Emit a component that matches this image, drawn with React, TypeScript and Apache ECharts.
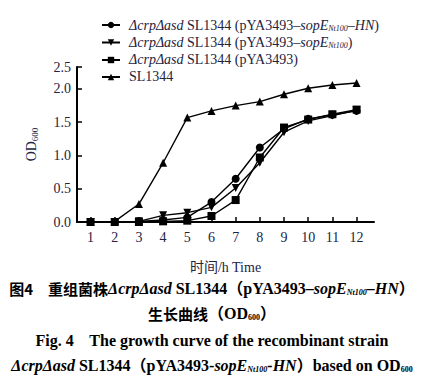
import React, { useEffect, useRef } from "react";
import * as echarts from "echarts";

const hours = [1, 2, 3, 4, 5, 6, 7, 8, 9, 10, 11, 12];
const sopEHN = [0, 0, 0.01, 0.03, 0.07, 0.3, 0.65, 1.12, 1.4, 1.55, 1.61, 1.67];
const sopENt = [0, 0, 0.01, 0.1, 0.14, 0.22, 0.51, 0.89, 1.35, 1.52, 1.6, 1.68];
const pYA = [0, 0, 0, 0.01, 0.02, 0.09, 0.33, 0.97, 1.42, 1.54, 1.62, 1.69];
const sl1344 = [0, 0.01, 0.27, 0.89, 1.57, 1.67, 1.75, 1.81, 1.92, 2.01, 2.06, 2.09];
const yTickValues = [0, 0.5, 1, 1.5, 2, 2.33];
const yTickLabels = ["0.0", "0.5", "1.0", "1.5", "2.0", "2.5"];

const seriesNames = ["sopEHN", "sopENt", "pYA", "SL1344"];

const SERIF = "'Liberation Serif', 'Times New Roman', 'Noto Sans CJK SC', serif";
const CJK = "'Liberation Serif', 'Noto Sans CJK SC', serif";
const TXT = "#23233f";
const CAP = "#231815";

export default function App() {
  const ref = useRef<HTMLDivElement>(null);
  useEffect(() => {
    if (!ref.current) return;
    const chart = echarts.init(ref.current, null, { renderer: "svg" });
    const mk = (name: string, data: number[], symbol: string, size: number, rotate = 0) => ({
      name,
      type: "line",
      data: hours.map((h, i) => [h, data[i]]),
      symbol,
      symbolSize: size,
      symbolRotate: rotate,
      lineStyle: { color: "#000", width: 1.4 },
      itemStyle: { color: "#000" },
    });
    const legendRich = {
      n: { fontFamily: CJK, fontSize: 14, color: TXT },
      i: { fontFamily: SERIF, fontSize: 14, fontStyle: "italic", color: TXT },
      s: { fontFamily: SERIF, fontSize: 8, fontStyle: "italic", color: TXT, padding: [7, 0, 0, 0] },
    };
    const legendText: Record<string, string> = {
      sopEHN: "{i|ΔcrpΔasd}{n| SL1344 (pYA3493–}{i|sopE}{s|Nt100}{i|–HN}{n|)}",
      sopENt: "{i|ΔcrpΔasd}{n| SL1344 (pYA3493–}{i|sopE}{s|Nt100}{n|)}",
      pYA: "{i|ΔcrpΔasd}{n| SL1344 (pYA3493)}",
      SL1344: "{n|SL1344}",
    };
    const capRich = {
      b: { fontFamily: "'Noto Sans CJK SC', sans-serif", fontWeight: "bold", fontSize: 15, color: CAP },
      e: { fontFamily: SERIF, fontWeight: "bold", fontSize: 16, color: CAP },
      ei: { fontFamily: SERIF, fontWeight: "bold", fontStyle: "italic", fontSize: 16, color: CAP },
      es: { fontFamily: SERIF, fontWeight: "bold", fontStyle: "italic", fontSize: 8, color: CAP, padding: [8, 0, 0, 0] },
      bs: { fontFamily: SERIF, fontWeight: "bold", fontSize: 8, color: CAP, padding: [8, 0, 0, 0] },
    };
    chart.setOption({
      animation: false,
      grid: { left: 77, top: 67, width: 297, height: 155 },
      legend: {
        orient: "vertical",
        left: 96,
        top: 13,
        itemWidth: 18,
        itemHeight: 8,
        itemGap: 3,
        data: seriesNames,
        formatter: (name: string) => legendText[name],
        textStyle: { rich: legendRich, padding: [0, 0, 0, 4] },
      },
      xAxis: {
        type: "value",
        min: 0.44,
        max: 12.72,
        axisLine: { lineStyle: { color: "#000", width: 2 } },
        axisTick: { inside: true, length: 5, customValues: hours, lineStyle: { color: "#000", width: 1.5 } },
        axisLabel: {
          customValues: hours,
          fontFamily: SERIF,
          fontSize: 14,
          color: TXT,
          margin: 8,
        },
        splitLine: { show: false },
        name: "时间/h Time",
        nameLocation: "middle",
        nameGap: 38,
        nameTextStyle: { fontFamily: CJK, fontSize: 14, color: TXT },
      },
      yAxis: {
        type: "value",
        min: 0,
        max: 2.33,
        axisLine: { show: true, lineStyle: { color: "#000", width: 2 } },
        axisTick: { show: true, inside: true, length: 5, customValues: yTickValues, lineStyle: { color: "#000", width: 1.5 } },
        axisLabel: {
          customValues: yTickValues,
          formatter: (v: number) => {
            const idx = yTickValues.findIndex((t) => Math.abs(t - v) < 1e-6);
            return idx >= 0 ? yTickLabels[idx] : "";
          },
          fontFamily: SERIF,
          fontSize: 14,
          color: TXT,
          margin: 6,
        },
        splitLine: { show: false },
        name: "{a|OD}{b|600}",
        nameLocation: "middle",
        nameRotate: 90,
        nameGap: 38,
        nameTextStyle: {
          rich: {
            a: { fontFamily: SERIF, fontSize: 14, color: TXT },
            b: { fontFamily: SERIF, fontSize: 9, color: TXT, padding: [7, 0, 0, 0] },
          },
        },
      },
      series: [
        mk("sopEHN", sopEHN, "circle", 8),
        mk("sopENt", sopENt, "triangle", 8, 180),
        mk("pYA", pYA, "rect", 8),
        mk("SL1344", sl1344, "triangle", 8),
      ],
      graphic: [
        {
          type: "text",
          left: "center",
          top: 280,
          style: {
            text: "{b|图4　重组菌株}{ei|ΔcrpΔasd}{e| SL1344（pYA3493–}{ei|sopE}{es|Nt100}{ei|–HN}{e|）}",
            rich: capRich,
          },
        },
        {
          type: "text",
          left: "center",
          top: 305,
          style: { text: "{b|生长曲线}{e|（OD}{bs|600}{e|）}", rich: capRich },
        },
        {
          type: "text",
          left: "center",
          top: 332,
          style: { text: "{e|Fig. 4    The growth curve of the recombinant strain}", rich: capRich },
        },
        {
          type: "text",
          left: "center",
          top: 357,
          style: {
            text: "{ei|ΔcrpΔasd}{e| SL1344（pYA3493-}{ei|sopE}{es|Nt100}{ei|-HN}{e|）based on OD}{bs|600}",
            rich: capRich,
          },
        },
      ],
    });
    return () => chart.dispose();
  }, []);
  return (
    <div
      ref={ref}
      style={{ position: "absolute", left: 0, top: 0, width: 424, height: 390, background: "#fff" }}
    />
  );
}
